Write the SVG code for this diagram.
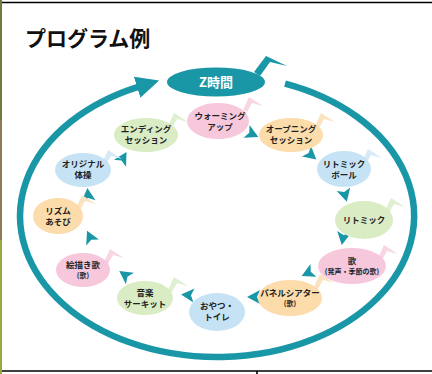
<svg xmlns="http://www.w3.org/2000/svg" width="432" height="374" viewBox="0 0 432 374">
<defs>
<style>
.title{font-family:"Noto Sans CJK JP","Noto Sans",sans-serif;font-weight:700;font-size:21px;fill:#111}
.lbl{font-family:"Noto Sans CJK JP","Noto Sans",sans-serif;font-weight:700;font-size:8.5px;fill:#222;text-anchor:middle}
.sm{font-size:7px}
.ring{fill:none;stroke:#1a97a7;stroke-width:6.5}
.arr{fill:#1a97a7}
.pink{fill:#f7c8dc}.peach{fill:#fcdcab}.blue{fill:#c6e3f6}.green{fill:#d9ecc4}
.fpink{fill:#f8d6e4}.fpeach{fill:#fbe3c2}.fblue{fill:#d6eaf7}.fgreen{fill:#e0efd0}
.line{stroke:#000;stroke-width:1.6}
</style>
<marker id="head" markerUnits="userSpaceOnUse" markerWidth="24" markerHeight="22" refX="3" refY="11" orient="auto">
<path d="M0,0 L23,11 L0,22 Z" fill="#1a97a7"/>
</marker>
<path id="pt" d="M7,0 L-6,-7 L-3,0 L-6,7 Z"/>
<path id="flag" d="M0,0 L6,-13 L20,-4 L9,-7 L4,2 Z"/>
</defs>
<rect x="0" y="0" width="432" height="374" fill="#fff"/>
<rect x="0" y="0" width="2" height="120" fill="#6f7d3b"/>
<rect x="0" y="120" width="2" height="120" fill="#8c7a55"/>
<rect x="0" y="240" width="2" height="134" fill="#9aa83a"/>
<line class="line" x1="2" y1="2.5" x2="432" y2="2.5"/>
<line class="line" x1="2" y1="371" x2="432" y2="371"/>
<line class="line" x1="257" y1="371" x2="257" y2="374"/>
<text class="title" x="25" y="46">プログラム例</text>

<g id="connectors">
<path class="ring" d="M285,83.7 A197,141 0 1,1 140,86.3" marker-end="url(#head)"/>
<use href="#pt" class="arr" transform="translate(252,134) rotate(25)"/>
<use href="#pt" class="arr" transform="translate(311,155) rotate(40)"/>
<use href="#pt" class="arr" transform="translate(345,195) rotate(75)"/>
<use href="#pt" class="arr" transform="translate(343,238) rotate(100)"/>
<use href="#pt" class="arr" transform="translate(308,273) rotate(155)"/>
<use href="#pt" class="arr" transform="translate(254,297) rotate(180)"/>
<use href="#pt" class="arr" transform="translate(188,295) rotate(185)"/>
<use href="#pt" class="arr" transform="translate(125,275) rotate(215)"/>
<use href="#pt" class="arr" transform="translate(90,237) rotate(245)"/>
<use href="#pt" class="arr" transform="translate(88,195) rotate(265)"/>
<use href="#pt" class="arr" transform="translate(123,158) rotate(300)"/>
</g>

<g id="z">
<path d="M254,72 L266,56 L287,66 L270,62 L260,76 Z" fill="#1a97a7"/>
<ellipse cx="216" cy="82" rx="49" ry="14.5" fill="#1a97a7"/>
<text x="216" y="87" text-anchor="middle" font-family="Noto Sans CJK JP,sans-serif" font-weight="700" font-size="13" fill="#fff">Z時間</text>
</g>

<g id="n1">
<use href="#flag" class="fpink" transform="translate(243,110)"/>
<ellipse class="pink" cx="218" cy="121" rx="31" ry="18"/>
<text class="lbl" x="220" y="119">ウォーミング</text>
<text class="lbl" x="220" y="130">アップ</text>
</g>
<g id="n2">
<use href="#flag" class="fpeach" transform="translate(315,126)"/>
<ellipse class="peach" cx="291" cy="135" rx="32" ry="17"/>
<text class="lbl" x="291" y="132">オープニング</text>
<text class="lbl" x="291" y="143">セッション</text>
</g>
<g id="n3">
<use href="#flag" class="fblue" transform="translate(362,162)"/>
<ellipse class="blue" cx="344" cy="169" rx="27" ry="18"/>
<text class="lbl" x="344" y="167">リトミック</text>
<text class="lbl" x="344" y="178">ボール</text>
</g>
<g id="n4">
<use href="#flag" class="fgreen" transform="translate(385,211)"/>
<ellipse class="green" cx="364" cy="220" rx="29" ry="19"/>
<text class="lbl" x="364" y="223">リトミック</text>
</g>
<g id="n5">
<use href="#flag" class="fpink" transform="translate(378,258)"/>
<ellipse class="pink" cx="352" cy="266" rx="34" ry="18"/>
<text class="lbl" x="352" y="264">歌</text>
<text class="lbl sm" x="352" y="274">(発声・季節の歌)</text>
</g>
<g id="n6">
<use href="#flag" class="fpeach" transform="translate(314,287)"/>
<ellipse class="peach" cx="290" cy="298" rx="32" ry="18"/>
<text class="lbl" x="290" y="296">パネルシアター</text>
<text class="lbl sm" x="290" y="306">(歌)</text>
</g>
<g id="n7">
<ellipse class="blue" cx="217" cy="312" rx="28" ry="19"/>
<text class="lbl" x="217" y="309">おやつ・</text>
<text class="lbl" x="217" y="320">トイレ</text>
</g>
<g id="n8">
<use href="#flag" class="fgreen" transform="translate(168,290)"/>
<ellipse class="green" cx="145" cy="298" rx="28" ry="17"/>
<text class="lbl" x="145" y="296">音楽</text>
<text class="lbl" x="145" y="307">サーキット</text>
</g>
<g id="n9">
<use href="#flag" class="fpink" transform="translate(104,262)"/>
<ellipse class="pink" cx="83" cy="270" rx="27" ry="17"/>
<text class="lbl" x="83" y="268">絵描き歌</text>
<text class="lbl sm" x="83" y="278">(歌)</text>
</g>
<g id="n10">
<use href="#flag" class="fpeach" transform="translate(76,208)"/>
<ellipse class="peach" cx="58" cy="216" rx="25" ry="18"/>
<text class="lbl" x="58" y="214">リズム</text>
<text class="lbl" x="58" y="225">あそび</text>
</g>
<g id="n11">
<use href="#flag" class="fblue" transform="translate(102,163)"/>
<ellipse class="blue" cx="83" cy="170" rx="28" ry="17"/>
<text class="lbl" x="83" y="167">オリジナル</text>
<text class="lbl" x="83" y="178">体操</text>
</g>
<g id="n12">
<use href="#flag" class="fgreen" transform="translate(168,126)"/>
<ellipse class="green" cx="146" cy="135" rx="32" ry="17"/>
<text class="lbl" x="146" y="132">エンディング</text>
<text class="lbl" x="146" y="143">セッション</text>
</g>
</svg>
